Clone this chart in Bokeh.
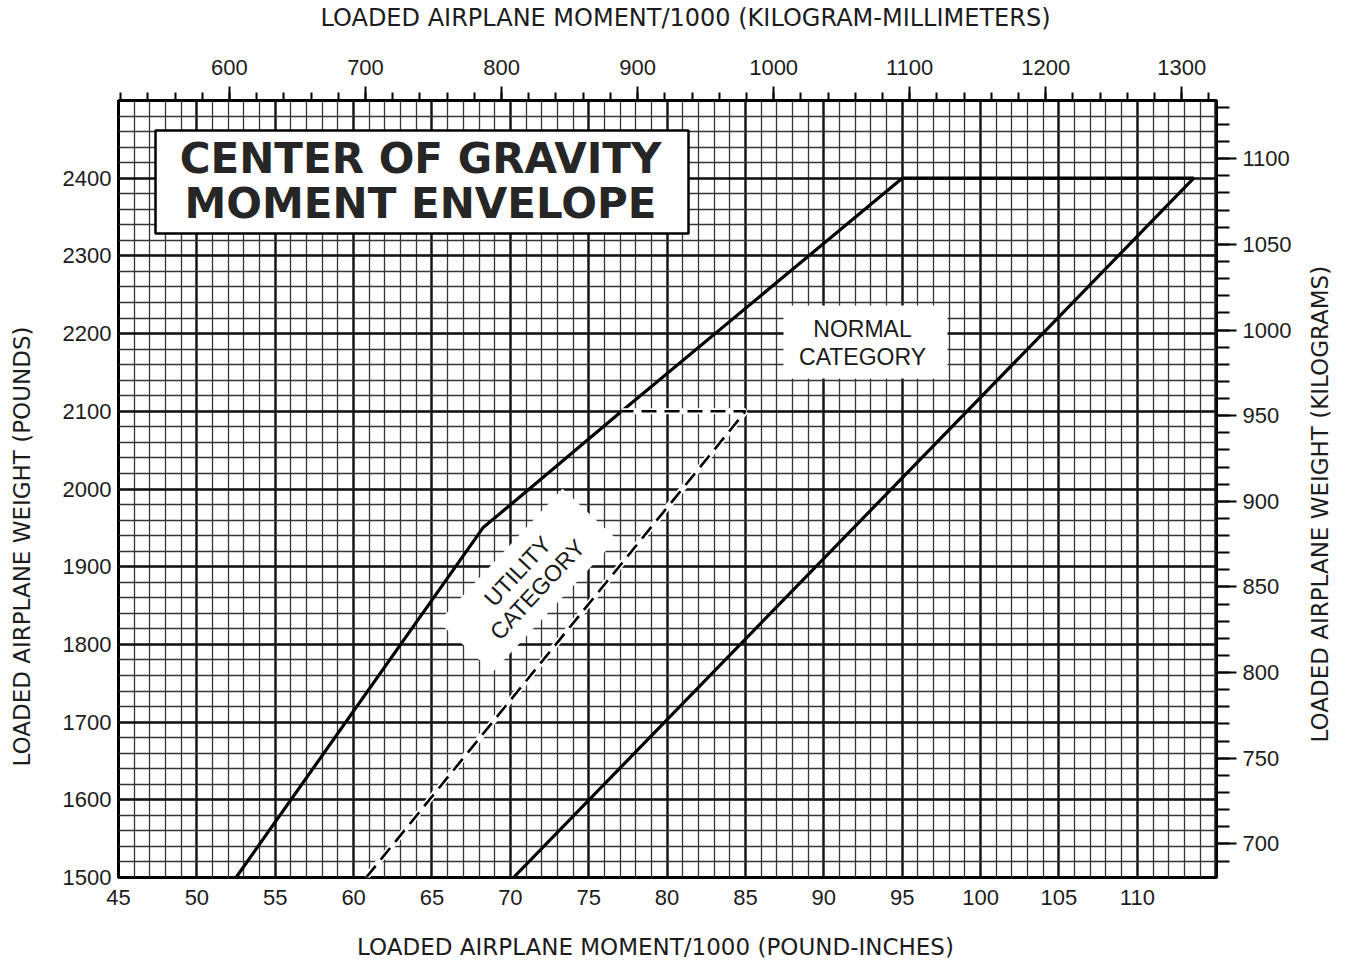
import math
from bokeh.plotting import figure
from bokeh.models import Range1d, LinearAxis, FixedTicker, SingleIntervalTicker, Label
from bokeh.embed import file_html
from bokeh.resources import INLINE

# ---------------- data ----------------
# Normal category envelope: forward limit up, across max weight, aft limit down
normal_moment = [52.5, 68.25, 77.1, 95.0, 113.6, 70.2]      # moment/1000 (lb-in)
normal_weight = [1500, 1950, 2100, 2400, 2400, 1500]        # lb

# Utility category boundary (dashed)
utility_moment = [60.8, 85.0, 77.1]
utility_weight = [1500, 2100, 2100]

# axis ticks
x_ticks = [45, 50, 55, 60, 65, 70, 75, 80, 85, 90, 95, 100, 105, 110]
y_ticks = [1500, 1600, 1700, 1800, 1900, 2000, 2100, 2200, 2300, 2400]
kgmm_ticks = [600, 700, 800, 900, 1000, 1100, 1200, 1300]
kgmm_minor = list(range(520, 1330, 20))
kg_ticks = [700, 750, 800, 850, 900, 950, 1000, 1050, 1100]
kg_minor = list(range(690, 1140, 10))

# axis titles
title_top = "LOADED AIRPLANE MOMENT/1000 (KILOGRAM-MILLIMETERS)"
title_bottom = "LOADED AIRPLANE MOMENT/1000 (POUND-INCHES)"
title_left = "LOADED AIRPLANE WEIGHT (POUNDS)"
title_right = "LOADED AIRPLANE WEIGHT (KILOGRAMS)"

LBIN_TO_KGMM = 0.45359237 * 25.4
LB_TO_KG = 0.45359237

X0, X1 = 45, 115.05
Y0, Y1 = 1500, 2500

# frame placement in picture pixels (left, right, top, bottom)
FL, FR, FT, FB = 118, 1216, 100, 877
W, H = 1348, 965


def px_x(px):
    return X0 + (px - FL) * (X1 - X0) / (FR - FL)


def px_y(py):
    return Y0 + (FB - py) * (Y1 - Y0) / (FB - FT)


p = figure(width=W, height=H, x_range=Range1d(X0, X1), y_range=Range1d(Y0, Y1),
           output_backend="svg", toolbar_location=None,
           min_border_left=FL, min_border_right=W - FR,
           min_border_top=FT, min_border_bottom=H - FB)
p.background_fill_color = "white"
p.border_fill_color = "white"
p.outline_line_color = "black"
p.outline_line_width = 3

# grids
p.xgrid.ticker = SingleIntervalTicker(interval=5, num_minor_ticks=5)
p.ygrid.ticker = SingleIntervalTicker(interval=100, num_minor_ticks=5)
for g in (p.xgrid, p.ygrid):
    g.grid_line_color = "#151515"
    g.grid_line_width = 2.4
    g.grid_line_alpha = 1.0
    g.minor_grid_line_color = "#353535"
    g.minor_grid_line_width = 1.3

TICK_FONT = "Liberation Sans"
LABEL_FONT = "DejaVu Sans"
TEXT_COLOR = "#1c1c1c"


def style_axis(ax, font=TICK_FONT, size="22px"):
    ax.major_label_text_font = font
    ax.major_label_text_font_size = size
    ax.major_label_text_color = TEXT_COLOR
    ax.axis_line_color = None


def no_ticks(ax):
    ax.major_tick_out = 0
    ax.major_tick_in = 0
    ax.minor_tick_out = 0
    ax.minor_tick_in = 0


# bottom axis
xb = p.xaxis[0]
xb.ticker = FixedTicker(ticks=x_ticks)
style_axis(xb)
no_ticks(xb)
xb.major_label_standoff = 12

# left axis
yl = p.yaxis[0]
yl.ticker = FixedTicker(ticks=y_ticks)
style_axis(yl)
no_ticks(yl)
yl.major_label_standoff = 7

# top axis (kilogram-millimeters)
p.extra_x_ranges = {"kgmm": Range1d(X0 * LBIN_TO_KGMM, X1 * LBIN_TO_KGMM)}
xt = LinearAxis(x_range_name="kgmm",
                ticker=FixedTicker(ticks=kgmm_ticks, minor_ticks=kgmm_minor))
style_axis(xt)
xt.major_tick_out = 14
xt.major_tick_in = 0
xt.minor_tick_out = 8
xt.minor_tick_in = 0
xt.major_tick_line_width = 2
xt.minor_tick_line_width = 2
xt.major_tick_line_color = "black"
xt.minor_tick_line_color = "black"
xt.major_label_standoff = 12
p.add_layout(xt, "above")

# right axis (kilograms)
p.extra_y_ranges = {"kg": Range1d(Y0 * LB_TO_KG, Y1 * LB_TO_KG)}
yr = LinearAxis(y_range_name="kg",
                ticker=FixedTicker(ticks=kg_ticks, minor_ticks=kg_minor))
style_axis(yr)
yr.major_tick_out = 20
yr.major_tick_in = 0
yr.minor_tick_out = 13
yr.minor_tick_in = 0
yr.major_tick_line_width = 2
yr.minor_tick_line_width = 2
yr.major_tick_line_color = "black"
yr.minor_tick_line_color = "black"
yr.major_label_standoff = 6
p.add_layout(yr, "right")


# axis titles: one-label axes outside the tick-label axes, so each title sits
# where the reference puts it
def title_axis(side, pos, text, standoff, size, orientation="horizontal"):
    ax = LinearAxis(ticker=FixedTicker(ticks=[pos]),
                    major_label_overrides={pos: text})
    style_axis(ax, LABEL_FONT, size)
    no_ticks(ax)
    ax.major_label_standoff = standoff
    ax.major_label_orientation = orientation
    p.add_layout(ax, side)
    return ax


title_axis("above", px_x(685), title_top, 25, "24px")
title_axis("below", px_x(655), title_bottom, 26, "23px")
title_axis("left", px_y(546), title_left, 25, "23px", "vertical")
# this one is anchored at its start (bottom end), so the anchor sits below centre
title_axis("right", px_y(742), title_right, 25, "23px", math.pi / 2)

# white cut-out behind the utility label (drawn first, under the lines)
U_CX, U_CY, U_ANG = 527, 580, 47
p.rect(x=[px_x(U_CX)], y=[px_y(U_CY)], width=182, height=74,
       width_units="screen", height_units="screen",
       angle=U_ANG, angle_units="deg", fill_color="white", line_color=None)

# envelope lines
p.line(normal_moment, normal_weight, line_color="black", line_width=3.2)
p.line(utility_moment, utility_weight, line_color="white", line_width=6)
p.line(utility_moment, utility_weight, line_color="black", line_width=2.6,
       line_dash="15 8")

# title box
p.rect(x=[px_x(421.5)], y=[px_y(181.5)], width=533, height=103,
       width_units="screen", height_units="screen",
       fill_color="white", line_color="black", line_width=2.5)
for txt, cy in (("CENTER OF GRAVITY", 158), ("MOMENT ENVELOPE", 203)):
    p.add_layout(Label(x=px_x(420), y=px_y(cy), text=txt, text_align="center",
                       text_baseline="middle", text_font=LABEL_FONT,
                       text_font_style="bold", text_font_size="42px",
                       text_color="#262626"))

# normal category box
p.rect(x=[px_x(865)], y=[px_y(341.5)], width=164, height=73,
       width_units="screen", height_units="screen",
       fill_color="white", line_color=None)
for txt, py in (("NORMAL", 328), ("CATEGORY", 356)):
    p.add_layout(Label(x=px_x(862), y=px_y(py), text=txt, text_align="center",
                       text_baseline="middle", text_font=TICK_FONT,
                       text_font_size="23px", text_color="#1a1a1a"))

# utility category label (rotated)
a = math.radians(U_ANG)
perp = (math.sin(a), math.cos(a))   # picture-space offset direction (down the text)
for txt, k in (("UTILITY", -13.5), ("CATEGORY", 13.5)):
    cx = U_CX + k * perp[0]
    cy = U_CY + k * perp[1]
    p.add_layout(Label(x=px_x(cx), y=px_y(cy), text=txt, text_align="center",
                       text_baseline="middle", angle=U_ANG, angle_units="deg",
                       text_font=TICK_FONT, text_font_size="23px",
                       text_color="#1a1a1a"))

open("out.html", "w").write(file_html(p, INLINE))
